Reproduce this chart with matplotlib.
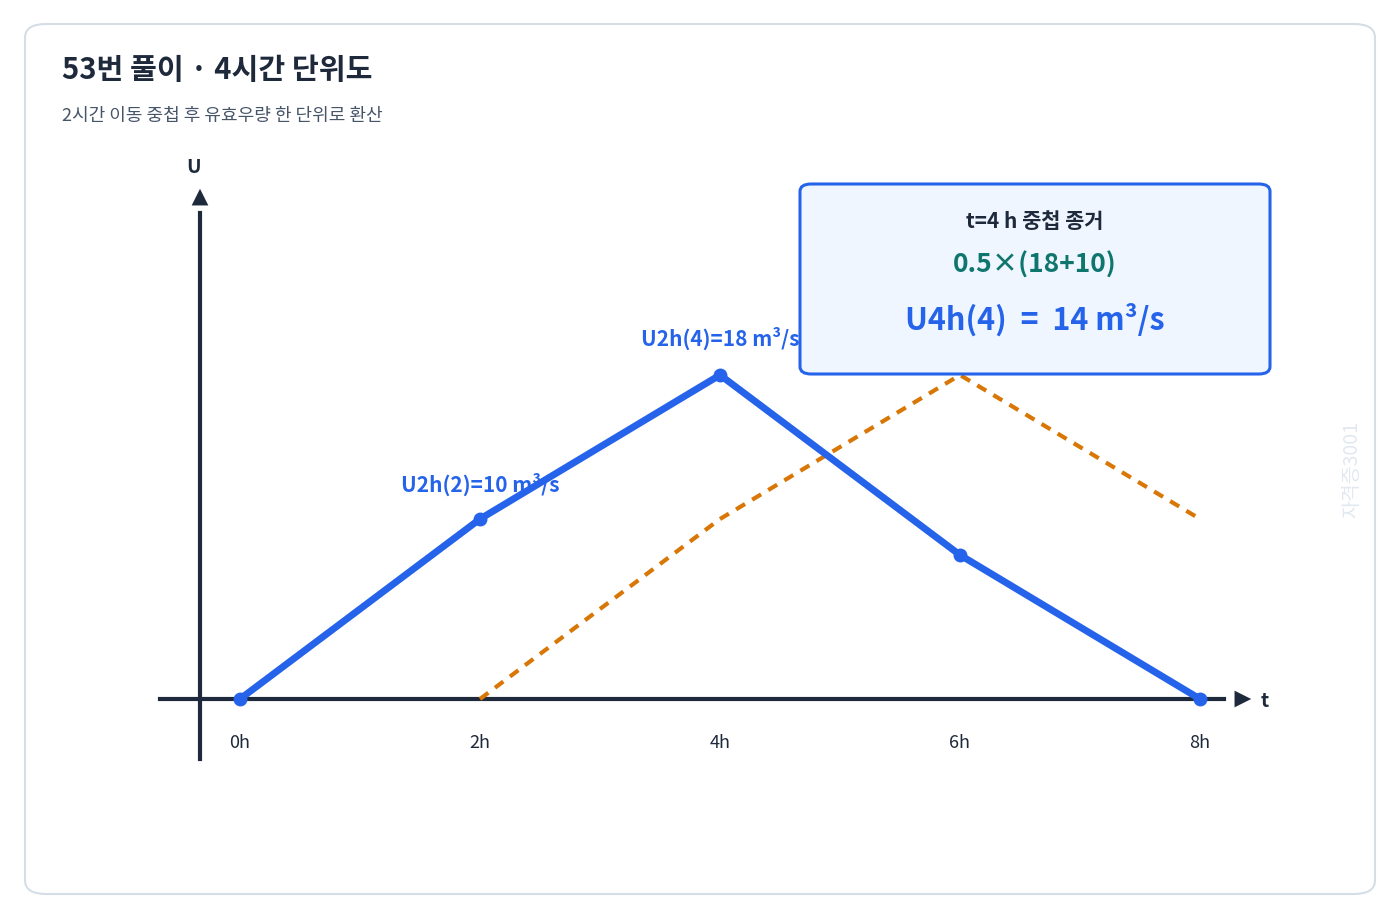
import matplotlib
matplotlib.use("Agg")
import matplotlib.pyplot as plt
from matplotlib.patches import FancyBboxPatch

plt.rcParams['font.family'] = ['Noto Sans CJK KR', 'DejaVu Sans']

hours = [0, 2, 4, 6, 8]
u2h = [0, 10, 18, 8, 0]
shift_h = [2, 4, 6, 8]
u2h_shift = [0, 10, 18, 10]
tick_labels = ["0h", "2h", "4h", "6h", "8h"]

BLUE = "#2563eb"
ORANGE = "#d97706"
DARK = "#1e293b"

fig = plt.figure(figsize=(14, 9.2), dpi=100)
W, H = 1400, 920
def fx(px): return px / W
def fy(py): return 1 - py / H

card = FancyBboxPatch((fx(25), fy(895)), fx(1375) - fx(25), fy(25) - fy(895),
                      boxstyle="round,pad=0,rounding_size=0.015", transform=fig.transFigure,
                      facecolor="white", edgecolor="#d5dde6", linewidth=1.5, zorder=-5)
fig.patches.append(card)

fig.text(fx(62), fy(70), "53번 풀이 · 4시간 단위도", fontsize=21, fontweight="bold",
         color=DARK, va="center", ha="left")
fig.text(fx(62), fy(116), "2시간 이동 중첩 후 유효우량 한 단위로 환산", fontsize=13,
         color="#475569", va="center", ha="left")

ax = fig.add_axes([0, 0, 1, 1], zorder=1)
ax.set_xlim(-2, 9.6667)
ax.set_ylim(-12.222, 38.889)
ax.axis("off")

# axes
ax.plot([-1/3, -1/3], [-3.33, 27], color=DARK, lw=3)
ax.annotate("", xy=(-1/3, 28.5), xytext=(-1/3, 26.5),
            arrowprops=dict(arrowstyle="-|>,head_width=0.6,head_length=1.2", color=DARK, lw=0))
ax.plot([-0.667, 8.2], [0, 0], color=DARK, lw=3)
ax.annotate("", xy=(8.45, 0), xytext=(8.1, 0),
            arrowprops=dict(arrowstyle="-|>,head_width=0.6,head_length=1.2", color=DARK, lw=0))
ax.text(-0.39, 29.6, "U", fontsize=14, fontweight="bold", color=DARK, ha="center", va="center")
ax.text(8.54, -0.1, "t", fontsize=14, fontweight="bold", color=DARK, ha="center", va="center")

for h, lab in zip(hours, tick_labels):
    ax.text(h, -2.39, lab, fontsize=13, color=DARK, ha="center", va="center")

ax.plot(shift_h, u2h_shift, color=ORANGE, lw=3, ls=(0, (2.5, 2)))
ax.plot(hours, u2h, color=BLUE, lw=5, marker="o", ms=9, zorder=3)

ax.text(2, 12.0, "U2h(2)=10 m³/s", fontsize=15, fontweight="bold", color=BLUE, ha="center", va="center")
ax.text(4, 20.1, "U2h(4)=18 m³/s", fontsize=15, fontweight="bold", color=BLUE, ha="center", va="center")

box = FancyBboxPatch((fx(800), fy(375)), fx(1270) - fx(800), fy(185) - fy(375),
                     boxstyle="round,pad=0,rounding_size=0.008", transform=fig.transFigure,
                     facecolor="#eff6ff", edgecolor=BLUE, linewidth=2.2, zorder=5)
fig.patches.append(box)
fig.text(fx(1035), fy(221), "t=4 h 중첩 종거", fontsize=15, fontweight="bold", color=DARK,
         ha="center", va="center", zorder=6)
fig.text(fx(1035), fy(265), "0.5×(18+10)", fontsize=19, fontweight="bold", color="#0f766e",
         ha="center", va="center", zorder=6)
fig.text(fx(1035), fy(320), "U4h(4)  =  14 m³/s", fontsize=22, fontweight="bold", color=BLUE,
         ha="center", va="center", zorder=6)

fig.text(fx(1352), fy(470), "자격증3001", fontsize=14, color="#e2e8f0", rotation=90,
         ha="center", va="center")

fig.savefig("out.png", dpi=100)
